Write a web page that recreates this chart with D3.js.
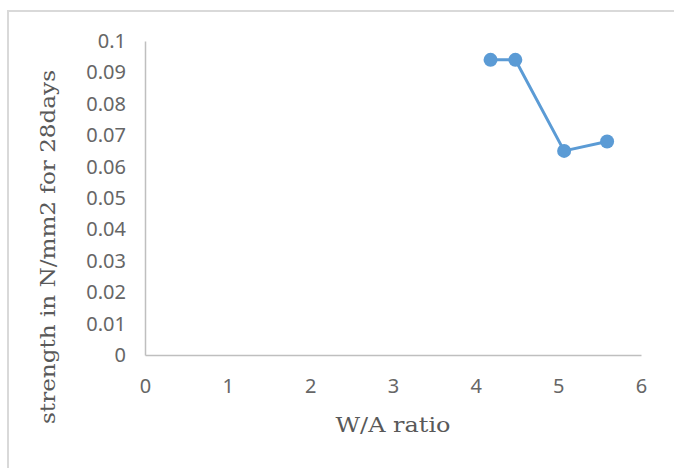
<!DOCTYPE html>
<html>
<head>
<meta charset="utf-8">
<script src="https://cdn.jsdelivr.net/npm/d3@7"></script>
<style>
  body { margin: 0; background: #fff; }
  svg { display: block; }
</style>
</head>
<body>
<svg></svg>
<script>
const waRatio = [4.18, 4.48, 5.07, 5.59];
const strength = [0.094, 0.094, 0.065, 0.068];
const xTicks = [0, 1, 2, 3, 4, 5, 6];
const yTicks = [0, 0.01, 0.02, 0.03, 0.04, 0.05, 0.06, 0.07, 0.08, 0.09, 0.1];

const svgWidth = 674;
const svgHeight = 468;
const margin = { top: 41, right: 33, bottom: 113, left: 145 };
const width = svgWidth - margin.left - margin.right;
const height = svgHeight - margin.top - margin.bottom;

const svg = d3.select('svg')
    .attr('width', svgWidth)
    .attr('height', svgHeight);

// chart frame (only top and left edges are visible in the crop)
svg.append('path')
    .attr('d', `M8,${svgHeight} V11 H${svgWidth}`)
    .attr('fill', 'none')
    .attr('stroke', '#d9d9d9')
    .attr('stroke-width', 2);

const g = svg.append('g')
    .attr('transform', `translate(${margin.left}, ${margin.top})`);

const x = d3.scaleLinear().domain([0, 6]).range([0, width]);
const y = d3.scaleLinear().domain([0, 0.1]).range([height, 0]);

const tickFont = '"Noto Sans", sans-serif';

const yAxis = g.append('g')
    .call(d3.axisLeft(y).tickValues(yTicks).tickSize(0).tickPadding(19)
        .tickFormat(d => String(+d.toFixed(2))));
yAxis.select('.domain').attr('stroke', '#bfbfbf').attr('stroke-width', 1.5);
yAxis.selectAll('text')
    .attr('font-family', tickFont)
    .attr('font-size', '20px')
    .attr('fill', '#666');

const xAxis = g.append('g')
    .attr('transform', `translate(0, ${height})`)
    .call(d3.axisBottom(x).tickValues(xTicks).tickSize(0).tickPadding(24)
        .tickFormat(d3.format('d')));
xAxis.select('.domain').attr('stroke', '#bfbfbf').attr('stroke-width', 1.5);
xAxis.selectAll('text')
    .attr('font-family', tickFont)
    .attr('font-size', '20px')
    .attr('fill', '#666');

const pts = waRatio.map((v, i) => [v, strength[i]]);

g.append('path')
    .datum(pts)
    .attr('fill', 'none')
    .attr('stroke', '#5b9bd5')
    .attr('stroke-width', 3)
    .attr('d', d3.line().x(d => x(d[0])).y(d => y(d[1])));

g.selectAll('.dot')
    .data(pts)
    .enter().append('circle')
    .attr('class', 'dot')
    .attr('cx', d => x(d[0]))
    .attr('cy', d => y(d[1]))
    .attr('r', 7)
    .attr('fill', '#5b9bd5');

// axis titles
g.append('text')
    .attr('x', width / 2)
    .attr('y', height + 77)
    .attr('text-anchor', 'middle')
    .attr('font-family', '"DejaVu Serif", serif')
    .attr('font-size', '21px')
    .attr('textLength', 115)
    .attr('lengthAdjust', 'spacingAndGlyphs')
    .attr('fill', '#595959')
    .text('W/A ratio');

g.append('text')
    .attr('transform', `translate(-90, ${206}) rotate(-90)`)
    .attr('text-anchor', 'middle')
    .attr('font-family', '"DejaVu Serif", serif')
    .attr('font-size', '21px')
    .attr('textLength', 354)
    .attr('lengthAdjust', 'spacingAndGlyphs')
    .attr('fill', '#595959')
    .text('strength in N/mm2 for 28days');
</script>
</body>
</html>
